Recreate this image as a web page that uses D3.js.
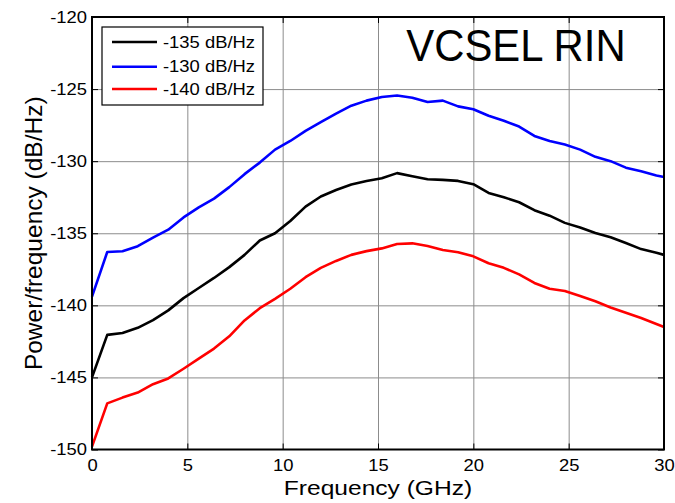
<!DOCTYPE html>
<html>
<head>
<meta charset="utf-8">
<script src="https://cdn.jsdelivr.net/npm/d3@7"></script>
<style>
  body { margin: 0; background: #fff; }
  svg { display: block; font-family: Arial, 'Liberation Sans', sans-serif; }
  .grid line { stroke: #8c8c8c; stroke-width: 1; }
  .grid path { display: none; }
  .ticks path { display: none; }
  .ticks line { stroke: #000; stroke-width: 1; }
</style>
</head>
<body>
<svg></svg>
<script>
// frequency points (GHz)
const freq = [0, 0.8, 1.6, 2.4, 3.2, 4.0, 4.8, 5.6, 6.4, 7.2, 8.0, 8.8, 9.6, 10.4, 11.2, 12.0,
  12.8, 13.6, 14.4, 15.2, 16.0, 16.8, 17.6, 18.4, 19.2, 20.0, 20.8, 21.6, 22.4, 23.2, 24.0,
  24.8, 25.6, 26.4, 27.2, 28.0, 28.8, 29.6, 30.0]

// RIN curves (dB/Hz)
const rin135 = [-145.0, -142.05, -141.92, -141.56, -141.02, -140.35, -139.5, -138.8, -138.1,
  -137.35, -136.5, -135.5, -135.0, -134.15, -133.15, -132.45, -132.0, -131.62, -131.38,
  -131.18, -130.83, -131.05, -131.25, -131.3, -131.37, -131.6, -132.2, -132.5, -132.85,
  -133.4, -133.78, -134.28, -134.6, -134.98, -135.28, -135.68, -136.1, -136.35, -136.5]

const rin130 = [-139.4, -136.3, -136.25, -135.9, -135.3, -134.75, -133.9, -133.2, -132.6,
  -131.8, -130.9, -130.1, -129.2, -128.6, -127.9, -127.3, -126.7, -126.15, -125.8,
  -125.55, -125.45, -125.6, -125.9, -125.8, -126.2, -126.4, -126.85, -127.2, -127.6,
  -128.25, -128.6, -128.85, -129.2, -129.7, -130.0, -130.45, -130.7, -131.0, -131.1]

const rin140 = [-149.8, -146.8, -146.4, -146.05, -145.47, -145.07, -144.4, -143.7, -143.0,
  -142.15, -141.05, -140.2, -139.55, -138.85, -138.05, -137.4, -136.92, -136.5, -136.24,
  -136.05, -135.75, -135.7, -135.88, -136.16, -136.32, -136.6, -137.08, -137.4, -137.85,
  -138.45, -138.85, -139.0, -139.35, -139.72, -140.15, -140.52, -140.88, -141.3, -141.5]

const seriesNames = ['-135 dB/Hz', '-130 dB/Hz', '-140 dB/Hz']
const seriesColors = ['#000000', '#0000ff', '#ff0000']
const seriesValues = [rin135, rin130, rin140]

const xTicks = [0, 5, 10, 15, 20, 25, 30]
const yTicks = [-150, -145, -140, -135, -130, -125, -120]

const width = 675,
  height = 503
const margin = { top: 17, right: 11, bottom: 53.5, left: 92 }
const w = width - margin.left - margin.right,
  h = height - margin.top - margin.bottom

// text in the reference is a little wider than plain Arial
const stretch = 1.15

const svg = d3.select('svg')
  .attr('width', width)
  .attr('height', height)

const g = svg.append('g')
  .attr('transform', `translate(${margin.left},${margin.top})`)

const x = d3.scaleLinear().domain([0, 30]).range([0, w])
const y = d3.scaleLinear().domain([-150, -120]).range([h, 0])

// grid
g.append('g')
  .attr('class', 'grid')
  .attr('transform', `translate(0,${h})`)
  .call(d3.axisBottom(x).tickValues(xTicks.slice(1, -1)).tickSize(-h).tickFormat(''))

g.append('g')
  .attr('class', 'grid')
  .call(d3.axisLeft(y).tickValues(yTicks.slice(1, -1)).tickSize(-w).tickFormat(''))

// curves
const line = d3.line()
  .x((d, i) => x(freq[i]))
  .y(d => y(d))

g.selectAll('.curve')
  .data(seriesValues)
  .enter().append('path')
  .attr('class', 'curve')
  .attr('d', line)
  .attr('fill', 'none')
  .attr('stroke', (d, i) => seriesColors[i])
  .attr('stroke-width', 2.6)
  .attr('stroke-linejoin', 'round')

// ticks, inward on all four sides
const xAxis = g.append('g')
  .attr('class', 'ticks')
  .attr('transform', `translate(0,${h})`)
  .call(d3.axisBottom(x).tickValues(xTicks).tickSize(-6).tickPadding(10).tickFormat(d => String(d)))

const yAxis = g.append('g')
  .attr('class', 'ticks')
  .call(d3.axisLeft(y).tickValues(yTicks).tickSize(-6).tickPadding(5).tickFormat(d => String(d)))

g.append('g')
  .attr('class', 'ticks')
  .call(d3.axisTop(x).tickValues(xTicks).tickSize(-6).tickFormat(''))

g.append('g')
  .attr('class', 'ticks')
  .attr('transform', `translate(${w},0)`)
  .call(d3.axisRight(y).tickValues(yTicks).tickSize(-6).tickFormat(''))

xAxis.selectAll('text')
  .attr('font-size', 16)
  .attr('fill', '#000')
  .attr('font-family', 'Arial, Liberation Sans, sans-serif')
  .attr('transform', `scale(${stretch},1)`)

yAxis.selectAll('text')
  .attr('font-size', 16)
  .attr('fill', '#000')
  .attr('font-family', 'Arial, Liberation Sans, sans-serif')
  .attr('x', -5 / stretch)
  .attr('transform', `scale(${stretch},1)`)

xAxis.selectAll('.tick').each(function (d) {
  d3.select(this).select('text').attr('x', 0)
})

// frame
g.append('rect')
  .attr('width', w)
  .attr('height', h)
  .attr('fill', 'none')
  .attr('stroke', '#000')
  .attr('stroke-width', 2)

// legend
const legend = svg.append('g')
  .attr('transform', 'translate(102,27)')

legend.append('rect')
  .attr('width', 161)
  .attr('height', 78)
  .attr('fill', '#fff')
  .attr('stroke', '#000')
  .attr('stroke-width', 1.2)

const legendRows = [15, 39.7, 62]

seriesNames.forEach((name, i) => {
  legend.append('line')
    .attr('x1', 10)
    .attr('x2', 55)
    .attr('y1', legendRows[i])
    .attr('y2', legendRows[i])
    .attr('stroke', seriesColors[i])
    .attr('stroke-width', 2.6)
  legend.append('g')
    .attr('transform', `translate(61,${legendRows[i]}) scale(${stretch},1)`)
    .append('text')
    .attr('dy', '0.35em')
    .attr('font-size', 16)
    .text(name)
})

// title inside the axes
svg.append('g')
  .attr('transform', 'translate(516,60.5) scale(0.93,1)')
  .append('text')
  .attr('text-anchor', 'middle')
  .attr('font-size', 45)
  .text('VCSEL RIN')

// axis titles
svg.append('g')
  .attr('transform', `translate(${margin.left + w / 2},495) scale(1.17,1)`)
  .append('text')
  .attr('text-anchor', 'middle')
  .attr('font-size', 21)
  .text('Frequency (GHz)')

svg.append('text')
  .attr('transform', `translate(41.5,${margin.top + h / 2}) rotate(-90)`)
  .attr('text-anchor', 'middle')
  .attr('font-size', 24.5)
  .text('Power/frequency (dB/Hz)')
</script>
</body>
</html>
